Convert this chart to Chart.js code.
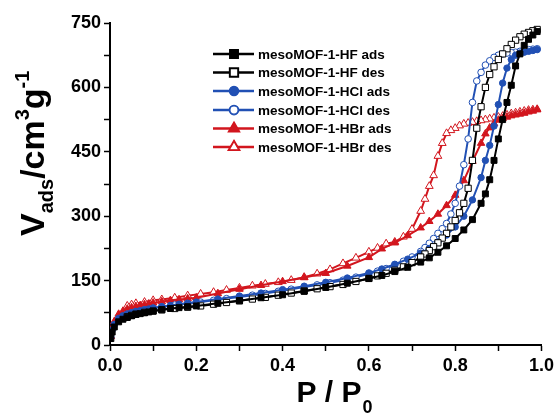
<!DOCTYPE html>
<html>
<head>
<meta charset="utf-8">
<script src="https://cdn.jsdelivr.net/npm/chart.js@4.4.0/dist/chart.umd.min.js"></script>
<style>
  html,body{margin:0;padding:0;background:#fff;}
  #wrap{width:558px;height:414px;position:relative;}
</style>
</head>
<body>
<div id="wrap"><canvas id="c" width="558" height="414"></canvas></div>
<script>
// Relative pressure points (P/P0)
const adsP = [0.002,0.005,0.01,0.02,0.03,0.04,0.05,0.06,0.07,0.08,0.09,0.10,0.12,0.14,0.16,0.18,0.20,0.25,0.30,0.35,0.40,0.45,0.50,0.55,0.60,0.63,0.66,0.69,0.72,0.74,0.76,0.78,0.80,0.82,0.84,0.86,0.87,0.88,0.89,0.90,0.91,0.92,0.93,0.94,0.95,0.96,0.97,0.98,0.99];
const desP = [0.99,0.98,0.97,0.96,0.95,0.94,0.93,0.92,0.91,0.90,0.89,0.88,0.87,0.86,0.85,0.84,0.83,0.82,0.81,0.80,0.79,0.78,0.77,0.76,0.75,0.74,0.73,0.72,0.70,0.68,0.66,0.64,0.62,0.60,0.57,0.54,0.51,0.48,0.45,0.42,0.39,0.36,0.33,0.30,0.27,0.24,0.21,0.18,0.15,0.12,0.10,0.08,0.06,0.05,0.04];

// Adsorbed volume (cm3/g)
const hfAds  = [15,30,42,54,60,64,68,71,73,75,77,79,82,85,87,89,91,97,103,110,117,125,134,144,155,162,171,181,193,203,216,231,248,268,292,330,352,385,430,480,525,565,605,650,678,698,712,722,730];
const hfDes  = [735,732,728,724,718,710,700,690,678,665,648,630,600,555,505,430,365,330,308,290,275,260,249,238,229,220,212,205,192,182,174,167,161,155,148,141,136,131,126,121,116,111,107,103,99,95,91,88,85,82,79,76,72,69,66];
const hclAds = [18,35,48,62,68,72,75,78,80,82,84,86,89,92,95,97,100,107,114,121,129,137,146,156,168,177,188,200,214,225,240,256,275,300,338,390,430,465,510,560,610,645,665,675,680,682,684,686,688];
const hclDes = [690,689,688,686,684,682,681,680,678,675,670,662,652,635,615,565,480,420,370,330,305,283,271,260,248,237,227,218,205,195,186,178,172,166,158,151,145,140,135,130,125,120,116,112,108,104,100,97,93,89,86,82,78,75,72];
const hbrAds = [20,40,55,72,79,84,87,90,92,94,96,98,101,104,106,108,110,120,130,139,148,157,167,184,204,224,238,255,273,288,305,325,349,383,428,470,492,506,516,524,528,531,534,536,538,540,543,545,548];
const hbrDes = [549,548,547,545,543,541,539,536,533,531,529,527,525,523,521,519,517,515,511,505,500,493,470,440,395,370,340,312,270,252,240,236,226,217,203,190,176,166,158,151,146,142,138,133,128,123,119,115,110,106,104,100,97,94,91];

const seriesNames = ["mesoMOF-1-HF ads","mesoMOF-1-HF des","mesoMOF-1-HCl ads","mesoMOF-1-HCl des","mesoMOF-1-HBr ads","mesoMOF-1-HBr des"];
const yTickValues = [0,150,300,450,600,750];
const xTickLabels = ["0.0","0.2","0.4","0.6","0.8","1.0"];

const BLACK = '#000000', BLUE = '#2150b4', RED = '#d2161e';

function pts(xs, ys){ return xs.map((x,i)=>({x:x, y:ys[i]})); }

const styles = [
  {c:BLACK, shape:'rect', r:4.2, open:false},
  {c:BLACK, shape:'rect', r:4.4, open:true},
  {c:BLUE, shape:'circle', r:3.2, open:false},
  {c:BLUE, shape:'circle', r:3.3, open:true},
  {c:RED, shape:'triangle', r:4.3, open:false},
  {c:RED, shape:'triangle', r:4.5, open:true}
];
const dataArr = [pts(adsP,hfAds), pts(desP,hfDes), pts(adsP,hclAds), pts(desP,hclDes), pts(adsP,hbrAds), pts(desP,hbrDes)];

const datasets = dataArr.map((d,i)=>({
  label: seriesNames[i],
  data: d,
  showLine: true,
  borderColor: styles[i].c,
  borderWidth: 2,
  pointStyle: styles[i].shape,
  pointRadius: styles[i].r,
  pointBackgroundColor: styles[i].open ? '#ffffff' : styles[i].c,
  pointBorderColor: styles[i].c,
  pointBorderWidth: 1,
  tension: 0
}));

const titlePlugin = {
  id: 'titles',
  afterDraw(chart){
    const ctx = chart.ctx;
    ctx.save();
    ctx.fillStyle = '#000';
    ctx.textBaseline = 'alphabetic';
    ctx.textAlign = 'left';
    // X title: P / P0
    const big = 'bold 30px "Liberation Sans", Arial, sans-serif';
    const sm = 'bold 18px "Liberation Sans", Arial, sans-serif';
    ctx.font = big;
    const t1 = 'P / P';
    const w1 = ctx.measureText(t1).width;
    ctx.font = sm;
    const w2 = ctx.measureText('0').width;
    let x0 = 334 - (w1 + w2)/2;
    ctx.font = big; ctx.fillText(t1, x0, 402);
    ctx.font = sm; ctx.fillText('0', x0 + w1 + 1, 413);

    // Y title: V_ads/cm^3 g^-1
    ctx.translate(44, 236);
    ctx.rotate(-Math.PI/2);
    const yb = 'bold 34px "Liberation Sans", Arial, sans-serif';
    const ys = 'bold 20px "Liberation Sans", Arial, sans-serif';
    const parts = [
      {t:'V', f:yb, dy:0},
      {t:'ads', f:ys, dy:9},
      {t:'/cm', f:yb, dy:0},
      {t:'3', f:ys, dy:-15},
      {t:'g', f:yb, dy:0},
      {t:'-1', f:ys, dy:-15}
    ];
    let px = 0;
    parts.forEach(p=>{ ctx.font = p.f; ctx.fillText(p.t, px, p.dy); px += ctx.measureText(p.t).width; });
    ctx.restore();

    // Legend
    ctx.save();
    const lx0 = 213, lx1 = 254, mx = 234, tx = 258;
    const rowY = [54, 72.5, 91, 110, 128.5, 147];
    ctx.font = 'bold 13.5px "Liberation Sans", Arial, sans-serif';
    ctx.textBaseline = 'middle';
    datasets.forEach((ds,i)=>{
      const y = rowY[i];
      ctx.strokeStyle = ds.borderColor; ctx.lineWidth = 2.5;
      ctx.beginPath(); ctx.moveTo(lx0, y); ctx.lineTo(lx1, y); ctx.stroke();
      Chart.helpers.drawPoint(ctx, {pointStyle: ds.pointStyle, radius: ds.pointRadius*1.25, borderWidth: 1.3, rotation:0}, mx, y);
      ctx.fillStyle = ds.pointBackgroundColor; ctx.strokeStyle = ds.borderColor; ctx.lineWidth=1.3;
      ctx.fill(); ctx.stroke();
      ctx.fillStyle = '#000';
      ctx.fillText(ds.label, tx, y + 1);
    });
    ctx.restore();
  }
};

new Chart(document.getElementById('c'), {
  type: 'scatter',
  data: { datasets },
  options: {
    responsive: false,
    animation: false,
    layout: { padding: { top: 23, right: 14, left: 0, bottom: 0 } },
    plugins: { legend: { display: false }, tooltip: { enabled: false } },
    scales: {
      x: {
        type: 'linear', min: 0, max: 1,
        border: { display: true, color: '#000', width: 2 },
        grid: { drawOnChartArea: false, drawTicks: true, color: '#000', tickLength: 6, tickWidth: 1.5 },
        ticks: {
          stepSize: 0.1, padding: 4, color: '#000',
          font: { family: '"Liberation Sans", Arial, sans-serif', size: 18, weight: 'bold' },
          callback: (v, i) => (i % 2 === 0 ? xTickLabels[i/2] : '')
        },
        afterFit: (s) => { s.height = 69; }
      },
      y: {
        type: 'linear', min: 0, max: 750,
        border: { display: true, color: '#000', width: 2 },
        grid: { drawOnChartArea: false, drawTicks: true, color: '#000', tickLength: 6, tickWidth: 1.5 },
        ticks: {
          stepSize: 75, padding: 3, color: '#000',
          font: { family: '"Liberation Sans", Arial, sans-serif', size: 18, weight: 'bold' },
          callback: (v) => (yTickValues.includes(v) ? String(v) : '')
        },
        afterFit: (s) => { s.width = 110; }
      }
    }
  },
  plugins: [titlePlugin]
});
</script>
</body>
</html>
